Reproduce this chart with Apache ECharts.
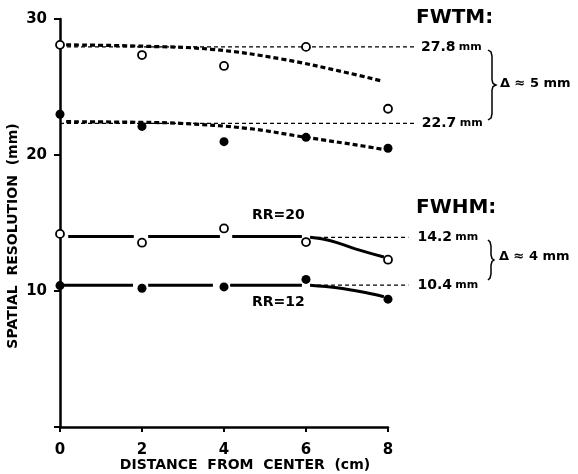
<!DOCTYPE html>
<html lang="en">
<head>
    <meta charset="UTF-8">
    <title>Spatial resolution vs distance from center</title>
</head>
<body style="margin: 0">
<div id="container" style="height: 474px; width: 578px;"></div>
<script type="text/javascript" src="https://cdn.jsdelivr.net/npm/echarts@6/dist/echarts.min.js"></script>
<script type="text/javascript">
    // measured points, distance from center (cm) vs resolution (mm)
    const distance = [0, 2, 4, 6, 8];
    const fwtmRR20 = [28.1, 27.35, 26.55, 27.95, 23.4];
    const fwtmRR12 = [23.0, 22.1, 20.98, 21.3, 20.5];
    const fwhmRR20 = [14.2, 13.55, 14.6, 13.6, 12.3];
    const fwhmRR12 = [10.4, 10.2, 10.3, 10.85, 9.4];

    // hand drawn fitted curves
    const fwtmRR20Fit = [[0.15, 28.1], [2, 28.0], [3.7, 27.77], [5.4, 27.06], [7, 26.05], [7.85, 25.44]];
    const fwtmRR12Fit = [[0.15, 22.45], [2, 22.4], [2.93, 22.33], [4.56, 21.96], [6, 21.3], [7.39, 20.66], [7.9, 20.4]];
    const fwhmRR20Flat = [[0.2, 14.0], [1.8, 14.0], [2, '-'], [2.15, 14.0], [3.9, 14.0], [4, '-'], [4.2, 14.0], [5.9, 14.0]];
    const fwhmRR20Tail = [[6.1, 13.95], [6.6, 13.7], [7.2, 13.1], [7.9, 12.5]];
    const fwhmRR12Flat = [[0.07, 10.43], [1.78, 10.43], [2, '-'], [2.15, 10.43], [3.73, 10.43], [4, '-'], [4.15, 10.43], [5.9, 10.43]];
    const fwhmRR12Tail = [[6.1, 10.43], [6.8, 10.22], [7.5, 9.85], [7.9, 9.58]];

    // reference levels at the right
    const refLevels = [27.95, 22.33, 13.95, 10.43];
    const refLabels = ['27.8', '22.7', '14.2', '10.4'];
    const refStart = [0, 0, 6.1, 6.1];
    const refEnd = [8.66, 8.68, 8.5, 8.5];

    const xTicks = [0, 2, 4, 6, 8];
    const yTicks = [0, 10, 20, 30];

    const font = 'DejaVu Sans';
    const dom = document.getElementById('container');
    const myChart = echarts.init(dom, null, {renderer: 'canvas'});

    function pts(ys) {
        return distance.map(function (x, i) {
            return [x, ys[i]];
        });
    }

    const series = [];

    [fwtmRR20Fit, fwtmRR12Fit].forEach(function (d) {
        series.push({
            type: 'line', data: d, smooth: 0.4, symbol: 'none', z: 3,
            lineStyle: {color: '#000', width: 3.2, type: [5, 3]}
        });
    });
    [fwhmRR20Flat, fwhmRR12Flat].forEach(function (d) {
        series.push({
            type: 'line', data: d, symbol: 'none', z: 3,
            lineStyle: {color: '#000', width: 3}
        });
    });
    [fwhmRR20Tail, fwhmRR12Tail].forEach(function (d) {
        series.push({
            type: 'line', data: d, smooth: 0.4, symbol: 'none', z: 3,
            lineStyle: {color: '#000', width: 3}
        });
    });

    // reference lines live on a wider hidden grid so they can run past x = 8
    refLevels.forEach(function (v, i) {
        series.push({
            type: 'line',
            xAxisIndex: 1,
            yAxisIndex: 1,
            data: [[refStart[i], v], [refEnd[i], v]],
            symbol: 'none',
            z: 2,
            lineStyle: {color: '#000', width: 1.3, type: [4, 3]},
            endLabel: {
                show: true,
                distance: i === 2 || i === 3 ? 9 : 6,
                formatter: '{a|' + refLabels[i] + '} {b|mm}',
                rich: {
                    a: {fontFamily: font, fontWeight: 'bold', fontSize: 14, color: '#000'},
                    b: {fontFamily: font, fontWeight: 'bold', fontSize: 11, color: '#000'}
                }
            }
        });
    });

    [fwtmRR20, fwhmRR20].forEach(function (ys) {
        series.push({
            type: 'scatter', data: pts(ys), symbol: 'circle', symbolSize: 8, z: 5,
            itemStyle: {color: '#fff', borderColor: '#000', borderWidth: 1.8, opacity: 1}
        });
    });
    [fwtmRR12, fwhmRR12].forEach(function (ys) {
        series.push({
            type: 'scatter', data: pts(ys), symbol: 'circle', symbolSize: 9, z: 5,
            itemStyle: {color: '#000', opacity: 1}
        });
    });

    const bold = {fontFamily: font, fontWeight: 'bold', fill: '#000'};

    // curly brace as a polyline: x of the spine, top, bottom, width of the tip
    function brace(x, y1, y2, w) {
        const m = (y1 + y2) / 2;
        return [
            [x - w, y1], [x - 1, y1 + 2], [x, y1 + 6], [x, m - 5], [x + 1, m - 1.5], [x + w, m],
            [x + 1, m + 1.5], [x, m + 5], [x, y2 - 6], [x - 1, y2 - 2], [x - w, y2]
        ];
    }

    const option = {
        backgroundColor: '#fff',
        animation: false,
        grid: [
            {left: 60, right: 190, top: 19, bottom: 47},
            {left: 60, right: 154, top: 19, bottom: 47}
        ],
        xAxis: [
            {
                type: 'value', min: 0, max: 8, interval: 2,
                splitLine: {show: false},
                axisLine: {lineStyle: {color: '#000', width: 2.5}},
                axisTick: {length: 5, lineStyle: {color: '#000', width: 2}},
                axisLabel: {
                    margin: 16, color: '#000', fontFamily: font, fontWeight: 'bold', fontSize: 15,
                    formatter: function (v) {
                        return xTicks.indexOf(v) >= 0 ? String(v) : '';
                    }
                }
            },
            {type: 'value', gridIndex: 1, min: 0, max: 8.88, show: false}
        ],
        yAxis: [
            {
                type: 'value', min: 0, max: 30, interval: 10,
                splitLine: {show: false},
                axisLine: {show: true, lineStyle: {color: '#000', width: 2.5}},
                axisTick: {show: true, length: 6, lineStyle: {color: '#000', width: 2}},
                axisLabel: {
                    margin: 13, color: '#000', fontFamily: font, fontWeight: 'bold', fontSize: 15,
                    formatter: function (v) {
                        return v === 0 || yTicks.indexOf(v) < 0 ? '' : String(v);
                    }
                }
            },
            {type: 'value', gridIndex: 1, min: 0, max: 30, show: false}
        ],
        graphic: [
            {type: 'text', x: 245, y: 458, style: Object.assign({text: 'DISTANCE  FROM  CENTER  (cm)', fontSize: 14, align: 'center'}, bold)},
            {type: 'text', x: 13, y: 236, rotation: Math.PI / 2,
                style: Object.assign({text: 'SPATIAL  RESOLUTION  (mm)', fontSize: 14, align: 'center', verticalAlign: 'middle'}, bold)},
            {type: 'text', x: 416, y: 8, style: Object.assign({text: 'FWTM:', fontSize: 20}, bold)},
            {type: 'text', x: 416, y: 198, style: Object.assign({text: 'FWHM:', fontSize: 20}, bold)},
            {type: 'text', x: 252, y: 208, style: Object.assign({text: 'RR=20', fontSize: 14}, bold)},
            {type: 'text', x: 252, y: 295, style: Object.assign({text: 'RR=12', fontSize: 14}, bold)},
            {type: 'text', x: 500, y: 77, style: Object.assign({text: 'Δ ≈ 5 mm', fontSize: 13}, bold)},
            {type: 'text', x: 499, y: 250, style: Object.assign({text: 'Δ ≈ 4 mm', fontSize: 13}, bold)},
            {type: 'polyline', shape: {points: brace(492, 50, 120, 4)}, style: {fill: null, stroke: '#000', lineWidth: 1.5}},
            {type: 'polyline', shape: {points: brace(491, 240, 280, 3)}, style: {fill: null, stroke: '#000', lineWidth: 1.5}}
        ],
        series: series
    };
    myChart.setOption(option);
</script>
</body>
</html>
